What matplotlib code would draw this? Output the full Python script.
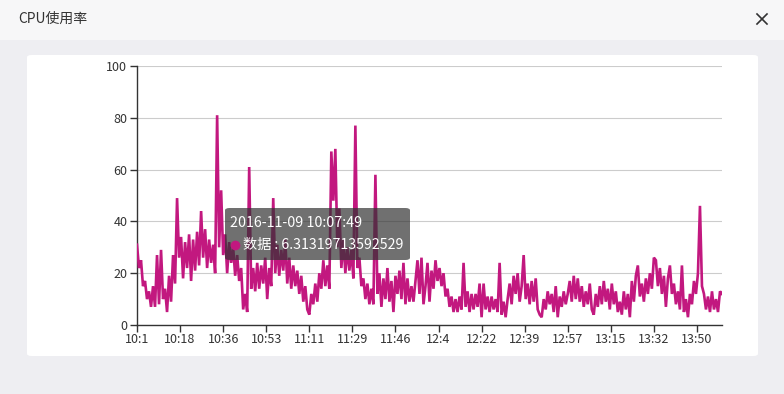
import matplotlib
matplotlib.use("Agg")
import matplotlib.pyplot as plt
from matplotlib.patches import FancyBboxPatch, Rectangle
from matplotlib.lines import Line2D
import numpy as np

plt.rcParams['font.family'] = ['Noto Sans CJK SC', 'DejaVu Sans']

title = "CPU使用率"
series_name = "数据"
tooltip_time = "2016-11-09 10:07:49"
tooltip_value = "6.31319713592529"

cpu_values = [
    31, 22, 25, 15, 17, 10, 13, 7, 15, 7, 27, 8, 29, 10, 14, 5, 19, 9, 27, 16,
    49, 26, 34, 18, 32, 22, 35, 17, 33, 21, 36, 23, 44, 26, 37, 22, 33, 24, 31, 20,
    81, 30, 52, 27, 35, 20, 32, 24, 30, 19, 27, 17, 22, 6, 12, 5, 61, 14, 22, 13,
    24, 14, 23, 16, 26, 10, 22, 15, 49, 20, 31, 19, 29, 21, 33, 16, 26, 14, 23, 15,
    21, 12, 19, 9, 15, 6, 4, 12, 8, 16, 9, 20, 14, 25, 15, 23, 14, 67, 48, 68,
    30, 45, 22, 33, 20, 30, 21, 29, 18, 77, 22, 26, 15, 18, 10, 16, 8, 14, 8, 58,
    12, 20, 7, 18, 10, 22, 9, 17, 5, 19, 12, 21, 10, 24, 8, 18, 9, 15, 9, 17,
    25, 12, 26, 8, 15, 24, 9, 21, 14, 25, 17, 22, 15, 20, 11, 14, 7, 11, 5, 10,
    5, 11, 6, 24, 7, 13, 5, 12, 6, 12, 7, 16, 3, 16, 6, 11, 5, 11, 6, 10,
    5, 24, 4, 9, 3, 10, 16, 8, 19, 12, 20, 9, 15, 27, 10, 16, 8, 17, 9, 18,
    6, 4, 3, 10, 6, 13, 8, 12, 5, 15, 3, 11, 7, 13, 8, 12, 17, 9, 19, 10,
    18, 9, 15, 7, 13, 8, 16, 6, 4, 12, 7, 15, 8, 17, 9, 14, 6, 16, 8, 13,
    5, 9, 4, 13, 6, 12, 3, 17, 9, 19, 23, 11, 16, 9, 18, 12, 20, 14, 26, 25,
    15, 22, 12, 19, 7, 18, 23, 12, 16, 8, 13, 6, 23, 5, 10, 3, 12, 8, 17, 12,
    20, 46, 15, 12, 6, 11, 5, 13, 6, 10, 5, 13, 12,
]

tick_labels = ["10:1", "10:18", "10:36", "10:53", "11:11", "11:29", "11:46",
               "12:4", "12:22", "12:39", "12:57", "13:15", "13:32", "13:50"]
points_per_tick = 21.5

y_ticks = [0, 20, 40, 60, 80, 100]

W, H = 784, 394
fig = plt.figure(figsize=(W / 100, H / 100), dpi=100)
fig.patch.set_facecolor('#eeeef2')

def fx(px):
    return px / W

def fy(py):
    return 1 - py / H

# title bar
fig.patches.append(Rectangle((0, fy(40)), 1, 40 / H, transform=fig.transFigure,
                             facecolor='#f7f7f8', edgecolor='none', zorder=-2))
fig.text(fx(18), fy(19), title, fontsize=10, color='#333333', va='center', ha='left')
# close X
for (x0, y0, x1, y1) in [(757, 14, 767, 24), (757, 24, 767, 14)]:
    fig.add_artist(Line2D([fx(x0), fx(x1)], [fy(y0), fy(y1)], transform=fig.transFigure,
                          color='#333333', lw=1.2))

# white panel
fig.patches.append(FancyBboxPatch((fx(27), fy(356)), fx(758) - fx(27), fy(55) - fy(356),
                                  boxstyle="round,pad=0,rounding_size=0.006",
                                  transform=fig.transFigure, facecolor='white',
                                  edgecolor='none', zorder=-2))

ax = fig.add_axes([fx(137), fy(325), fx(722) - fx(137), fy(66) - fy(325)])
ax.set_zorder(1)
ax.set_facecolor('none')
x = np.arange(len(cpu_values))
ax.plot(x, cpu_values, color='#c2187f', lw=1.9, solid_joinstyle='miter', zorder=3)
ax.set_xlim(0, len(cpu_values) - 1)
ax.set_ylim(0, 100)
ax.set_yticks(y_ticks)
ax.set_yticklabels([str(v) for v in y_ticks])
ax.set_xticks(np.arange(len(tick_labels)) * points_per_tick)
ax.set_xticklabels(tick_labels)
ax.grid(axis='y', color='#cccccc', lw=0.8)
ax.set_axisbelow(True)
for s in ['top', 'right']:
    ax.spines[s].set_visible(False)
for s in ['left', 'bottom']:
    ax.spines[s].set_color('#333333')
    ax.spines[s].set_linewidth(1.0)
ax.tick_params(axis='both', colors='#333333', labelsize=9, length=5, width=1, direction='out')
ax.tick_params(axis='y', pad=2)
ax.tick_params(axis='x', pad=1)

# tooltip
fig.patches.append(FancyBboxPatch((fx(225), fy(260)), fx(410) - fx(225), fy(208) - fy(260),
                                  boxstyle="round,pad=0,rounding_size=0.006",
                                  transform=fig.transFigure, facecolor=(0.2, 0.2, 0.2, 0.7),
                                  edgecolor='none', zorder=10))
fig.text(fx(230), fy(223), tooltip_time, fontsize=10.3, color='white', va='center',
         ha='left', zorder=11)
fig.add_artist(Line2D([fx(235)], [fy(245)], transform=fig.transFigure, marker='o',
                      markersize=7, markerfacecolor='#c2187f', markeredgecolor='none',
                      linestyle='none', zorder=11))
fig.text(fx(243), fy(245), series_name + " : " + tooltip_value, fontsize=10.2, color='white',
         va='center', ha='left', zorder=11)

fig.savefig('out.png', dpi=100, facecolor=fig.get_facecolor())
